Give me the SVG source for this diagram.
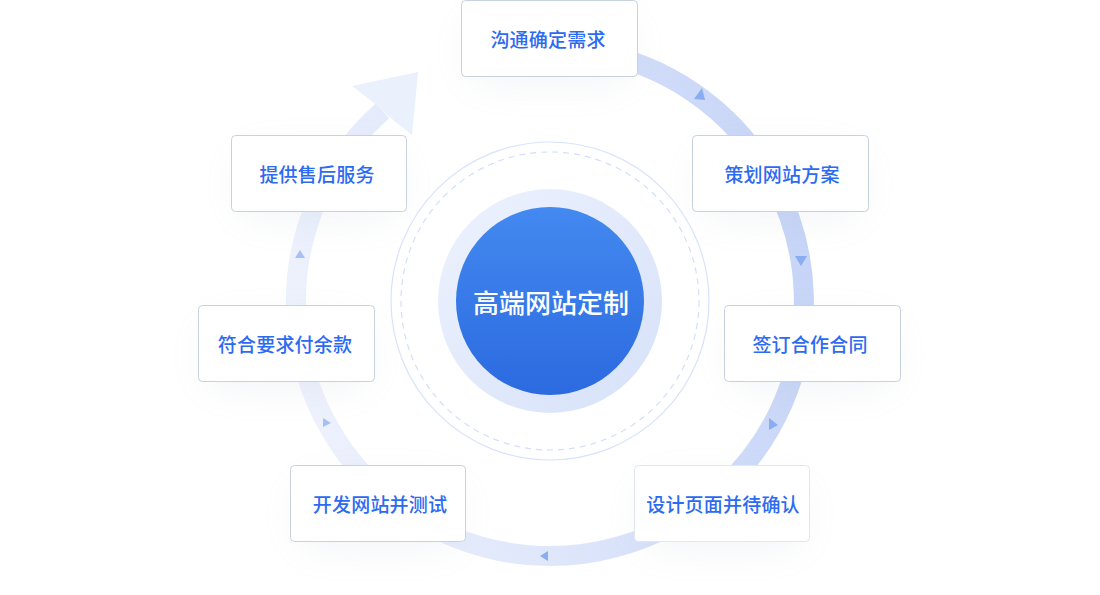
<svg xmlns="http://www.w3.org/2000/svg" width="1100" height="595" viewBox="0 0 1100 595">
<defs>
<linearGradient id="ringGrad" gradientUnits="userSpaceOnUse" x1="810" y1="250" x2="290" y2="350">
<stop offset="0" stop-color="#c6d4f7"/>
<stop offset="0.5" stop-color="#dbe4fa"/>
<stop offset="1" stop-color="#eef2fd"/>
</linearGradient>
<linearGradient id="coreGrad" x1="0" y1="0" x2="0" y2="1">
<stop offset="0" stop-color="#4389f0"/>
<stop offset="1" stop-color="#2c6ae0"/>
</linearGradient>
<linearGradient id="haloGrad" x1="0" y1="0" x2="1" y2="1">
<stop offset="0" stop-color="#edf2fd"/>
<stop offset="1" stop-color="#d6e1f9"/>
</linearGradient>
<filter id="glow" x="-50%" y="-80%" width="200%" height="260%">
<feGaussianBlur stdDeviation="18"/>
</filter>
</defs>
<style>
.ring{fill:none;stroke:url(#ringGrad);stroke-width:20}
.tri{fill:#8aacf0}
.tri2{fill:#a6bff4}
.shadow{fill:#9aa7b8;opacity:0.1;filter:url(#glow)}
.box{fill:#ffffff;stroke:#c8d2dc;stroke-width:1}
.box.light{stroke:#e2e7ee}
.lbl{font-family:"Noto Sans CJK SC","Noto Sans",sans-serif;font-size:19px;font-weight:500;letter-spacing:0.2px;fill:#2d6af2;text-anchor:middle;dominant-baseline:central}
.core{font-family:"Noto Sans CJK SC","Noto Sans",sans-serif;font-size:26px;font-weight:500;fill:#ffffff;text-anchor:middle;dominant-baseline:central}
</style>
<rect width="1100" height="595" fill="#ffffff"/>

<g id="connectors">
<path class="ring" d="M594.1 51.9 A254 254 0 1 1 382.7 110.8"/>
<polygon points="418,72 352,86 374,103 392,119 412,135" fill="#ebf0fd"/>
<polygon class="tri" points="702,88 694,99 705,100"/>
<polygon class="tri" points="795,256 807,256 801,266"/>
<polygon class="tri" points="769,418 769,430 778,425"/>
<polygon class="tri" points="548,551 540,556 548,561"/>
<polygon class="tri2" points="323,418 323,427 331,423"/>
<polygon class="tri2" points="300,250 295,258 305,258"/>
</g>

<g id="center">
<circle cx="550" cy="301" r="159" fill="none" stroke="#d8e3fb" stroke-width="1.2"/>
<circle cx="550" cy="301" r="149" fill="none" stroke="#d3dffa" stroke-width="1.2" stroke-dasharray="6 5"/>
<circle cx="550" cy="301" r="112" fill="url(#haloGrad)"/>
<circle cx="550" cy="301" r="94" fill="url(#coreGrad)"/>
<text class="core" x="551" y="301">高端网站定制</text>
</g>

<g id="node-1">
<rect class="shadow" x="466" y="14" width="167" height="72" rx="30"/>
<rect class="box" x="461.5" y="0.5" width="176" height="76" rx="4"/>
<text class="lbl" x="548" y="38">沟通确定需求</text>
</g>
<g id="node-2">
<rect class="shadow" x="697" y="149" width="167" height="72" rx="30"/>
<rect class="box" x="692.5" y="135.5" width="176" height="76" rx="4"/>
<text class="lbl" x="782" y="173">策划网站方案</text>
</g>
<g id="node-3">
<rect class="shadow" x="729" y="319" width="167" height="72" rx="30"/>
<rect class="box" x="724.5" y="305.5" width="176" height="76" rx="4"/>
<text class="lbl" x="810" y="343">签订合作合同</text>
</g>
<g id="node-4">
<rect class="shadow" x="639" y="479" width="166" height="72" rx="30"/>
<rect class="box light" x="634.5" y="465.5" width="175" height="76" rx="4"/>
<text class="lbl" x="723" y="503">设计页面并待确认</text>
</g>
<g id="node-5">
<rect class="shadow" x="295" y="479" width="166" height="72" rx="30"/>
<rect class="box" x="290.5" y="465.5" width="175" height="76" rx="4"/>
<text class="lbl" x="380" y="503">开发网站并测试</text>
</g>
<g id="node-6">
<rect class="shadow" x="203" y="319" width="167" height="72" rx="30"/>
<rect class="box" x="198.5" y="305.5" width="176" height="76" rx="4"/>
<text class="lbl" x="285" y="343">符合要求付余款</text>
</g>
<g id="node-7">
<rect class="shadow" x="236" y="149" width="166" height="72" rx="30"/>
<rect class="box" x="231.5" y="135.5" width="175" height="76" rx="4"/>
<text class="lbl" x="317" y="173">提供售后服务</text>
</g>
</svg>
